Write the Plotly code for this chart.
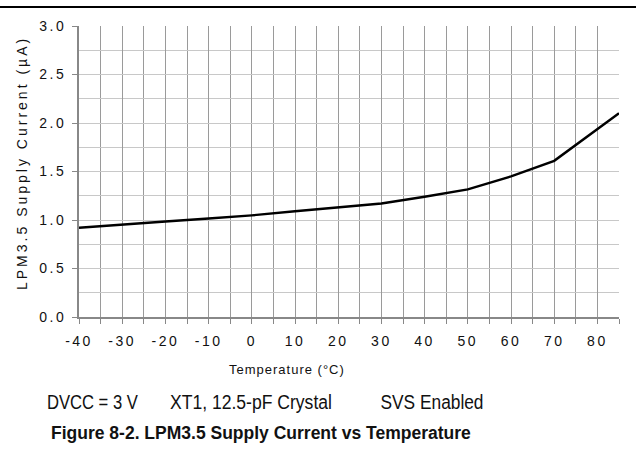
import plotly.graph_objects as go

temps = [-40, -30, -20, -10, 0, 10, 20, 30, 40, 50, 60, 70, 85]
current = [0.92, 0.955, 0.985, 1.015, 1.048, 1.09, 1.13, 1.17, 1.24, 1.315, 1.45, 1.61, 2.10]

x_ticks = [-40, -30, -20, -10, 0, 10, 20, 30, 40, 50, 60, 70, 80]
y_ticks = [0.0, 0.5, 1.0, 1.5, 2.0, 2.5, 3.0]

W, H = 636, 452
L, R, T, B = 79, 17, 26, 135
pw, ph = W - L - R, H - T - B

def px_to_paper_y(py):
    return (H - B - py) / ph

def px_to_paper_x(px):
    return (px - L) / pw

FONT = "Liberation Sans, Arial, sans-serif"

fig = go.Figure()
fig.add_trace(go.Scatter(x=temps, y=current, mode="lines",
                         line=dict(color="black", width=2.4), showlegend=False))

fig.update_layout(
    width=W, height=H,
    margin=dict(l=L, r=R, t=T, b=B),
    paper_bgcolor="white", plot_bgcolor="white",
    font=dict(family=FONT, size=14, color="#111"),
    xaxis=dict(
        range=[-40, 85], tickvals=x_ticks, ticktext=[str(v) for v in x_ticks],
        showgrid=True, gridcolor="#9a9a9a", gridwidth=1,
        minor=dict(dtick=5, tick0=-40, showgrid=True, gridcolor="#9a9a9a", gridwidth=1,
                   ticks="outside", ticklen=5, tickcolor="#888"),
        ticks="outside", ticklen=5, tickcolor="#888",
        ticklabelstandoff=5,
        showline=True, linecolor="#888", linewidth=2,
        zeroline=False, automargin=False,
        tickfont=dict(size=14),
    ),
    yaxis=dict(
        range=[0, 3.0], tickvals=y_ticks, ticktext=[f"{v:.1f}" for v in y_ticks],
        showgrid=True, gridcolor="#c8c8c8", gridwidth=1,
        minor=dict(dtick=0.25, tick0=0, showgrid=True, gridcolor="#c8c8c8", gridwidth=1),
        ticks="outside", ticklen=5, tickcolor="#888",
        ticklabelstandoff=3,
        showline=True, linecolor="#888", linewidth=2,
        zeroline=False, automargin=False,
        tickfont=dict(size=14),
    ),
)

# axis titles
fig.add_annotation(text="Temperature (°C)", xref="paper", yref="paper",
                   x=px_to_paper_x(287), y=px_to_paper_y(369), xanchor="center", yanchor="middle",
                   showarrow=False, font=dict(size=13, color="#111"))
fig.add_annotation(text="LPM3.5 Supply Current (µA)", xref="paper", yref="paper",
                   x=px_to_paper_x(22), y=px_to_paper_y(163), xanchor="center", yanchor="middle",
                   textangle=-90, showarrow=False, font=dict(size=14, color="#111"))

# top rule of the figure page
fig.add_shape(type="line", xref="paper", yref="paper", layer="above",
              x0=px_to_paper_x(0), x1=px_to_paper_x(W),
              y0=px_to_paper_y(7), y1=px_to_paper_y(7),
              line=dict(color="black", width=1.8))

notes = [("DVCC = 3 V", 92.5), ("XT1, 12.5-pF Crystal", 251), ("SVS Enabled", 431.5)]
for txt, cx in notes:
    fig.add_annotation(text=txt, xref="paper", yref="paper",
                       x=px_to_paper_x(cx), y=px_to_paper_y(402), xanchor="center", yanchor="middle",
                       showarrow=False, font=dict(size=19.5, color="#111"))

fig.add_annotation(text="<b>Figure 8-2. LPM3.5 Supply Current vs Temperature</b>", xref="paper", yref="paper",
                   x=px_to_paper_x(261), y=px_to_paper_y(433), xanchor="center", yanchor="middle",
                   showarrow=False, font=dict(size=17.5, color="#111"))

post = """
document.body.style.margin = '0';
document.body.style.padding = '0';
document.documentElement.style.overflow = 'hidden';
var gd = document.getElementById('{plot_id}');
var widths = {'DVCC = 3 V': 91, 'XT1, 12.5-pF Crystal': 162, 'SVS Enabled': 103};
function sp(){
  gd.querySelectorAll('.xtick text, .ytick text').forEach(function(t){ t.setAttribute('letter-spacing','2.5px'); });
  gd.querySelectorAll('.annotation-text').forEach(function(t){
    var s = t.textContent;
    if (s.indexOf('LPM3.5 Supply') === 0) t.setAttribute('letter-spacing','3px');
    if (s.indexOf('Temperature') === 0) t.setAttribute('letter-spacing','1px');
    if (widths[s] !== undefined) {
      t.setAttribute('textLength', widths[s]);
      t.setAttribute('lengthAdjust', 'spacingAndGlyphs');
    }
  });
}
sp();
gd.on('plotly_afterplot', sp);
"""

fig.write_html("out.html", post_script=post, config={"displayModeBar": False})
